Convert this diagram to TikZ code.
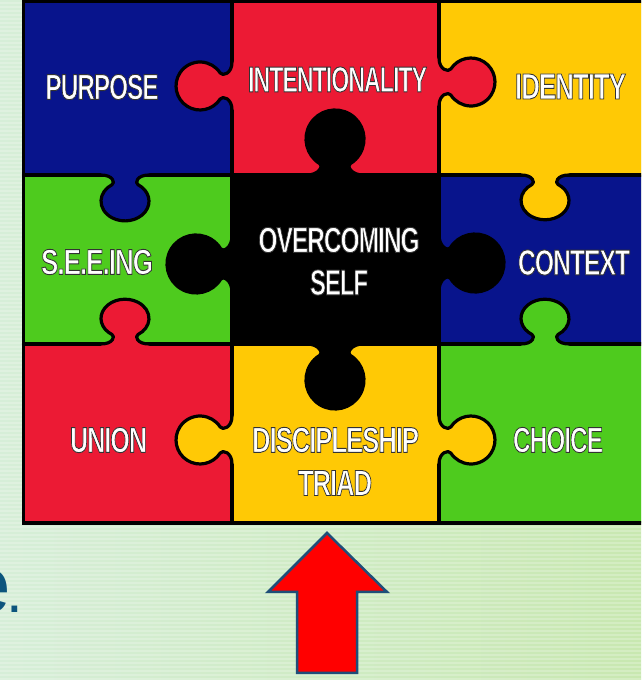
\documentclass[tikz,border=0pt]{standalone}
\usepackage{fontspec}
\setmainfont{Liberation Sans}
\newfontfamily\lblfont{Liberation Sans}[LetterSpace=-4]
\usepackage{graphicx}
\definecolor{pblue}{RGB}{8,20,140}
\definecolor{pred}{RGB}{236,26,52}
\definecolor{pyellow}{RGB}{255,201,5}
\definecolor{pgreen}{RGB}{78,203,30}
\definecolor{bgl}{RGB}{214,238,216}
\definecolor{bgr}{RGB}{200,232,176}
\definecolor{arrowred}{RGB}{255,0,0}
\definecolor{arrowedge}{RGB}{31,78,121}
\definecolor{etext}{RGB}{12,85,125}
\newcommand\olabel[2]{\resizebox{#1pt}{25pt}{\fontsize{35}{35}\lblfont\bfseries
 \special{pdf:literal direct 2 Tr 0.9 w 0.2 0.2 0.2 RG}#2\special{pdf:literal direct 0 Tr}}}
\tikzset{
 puzzleline/.style={line width=3.2pt, black, line cap=round, line join=round},
 lbl/.style={inner sep=0pt, anchor=center, text=white},
}
% tab A: head radius 24
\newcommand\tabA[5]{% x, y, rotate, color, yscale
 \begin{scope}[shift={(#1,#2)},rotate=#3,yscale=#5]
  \fill[#4] (-24,-5) -- (-24,0) .. controls (-12,0) and (-9.6,9.6) .. (-13,11.8)
    arc[start angle=237.2,end angle=-57.2,radius=24]
    .. controls (9.6,9.6) and (12,0) .. (24,0) -- (24,-5) -- cycle;
  \draw[puzzleline] (-24,0) .. controls (-12,0) and (-9.6,9.6) .. (-13,11.8)
    arc[start angle=237.2,end angle=-57.2,radius=24]
    .. controls (9.6,9.6) and (12,0) .. (24,0);
 \end{scope}}
% tab B: head radius 29 (black piece)
\newcommand\tabB[4]{% x, y, rotate, color
 \begin{scope}[shift={(#1,#2)},rotate=#3]
  \fill[#4] (-28,-5) -- (-28,0) .. controls (-16,0) and (-11.6,9.1) .. (-15,11.2)
    arc[start angle=238.8,end angle=-58.8,radius=29]
    .. controls (11.6,9.1) and (16,0) .. (28,0) -- (28,-5) -- cycle;
  \draw[puzzleline] (-28,0) .. controls (-16,0) and (-11.6,9.1) .. (-15,11.2)
    arc[start angle=238.8,end angle=-58.8,radius=29]
    .. controls (11.6,9.1) and (16,0) .. (28,0);
 \end{scope}}
\begin{document}
\begin{tikzpicture}[x=1pt,y=1pt]
\useasboundingbox (0,0) rectangle (641,680);
\clip (0,0) rectangle (641,680);
% background
\fill[left color=bgl, right color=bgr] (0,0) rectangle (641,680);
\foreach \i in {0,4,...,680} \fill[white, opacity=0.22] (0,\i) rectangle (641,\i+2);
\node[anchor=base west, text=etext, font=\fontsize{80}{80}\selectfont, inner sep=0pt] (etxt) at (-33.5,67) {e\kern-4.5pt{\fontsize{60}{60}\selectfont.}};
% pieces
\fill[pblue]   (23.5,505) rectangle (232,678.5);
\fill[pred]    (232,505) rectangle (439,678.5);
\fill[pyellow] (439,505) rectangle (645,678.5);
\fill[pgreen]  (23.5,336) rectangle (232,505);
\fill[black]   (232,336) rectangle (439,505);
\fill[pblue]   (439,336) rectangle (645,505);
\fill[pred]    (23.5,157) rectangle (232,336);
\fill[pyellow] (232,157) rectangle (439,336);
\fill[pgreen]  (439,157) rectangle (645,336);
% grid lines
\draw[puzzleline] (232,157) -- (232,678.5);
\draw[puzzleline] (439,157) -- (439,678.5);
\draw[puzzleline] (23.5,505) -- (645,505);
\draw[puzzleline] (23.5,336) -- (645,336);
% tabs
\tabA{232}{594}{90}{pred}{1}
\tabA{439}{598}{-90}{pred}{1}
\tabB{335}{505}{0}{black}
\tabA{125}{505}{180}{pblue}{0.82}
\tabA{545}{505}{180}{pyellow}{0.8}
\tabB{232}{416}{90}{black}
\tabB{439}{417}{-90}{black}
\tabA{125}{336}{0}{pred}{0.8}
\tabA{545}{336}{0}{pgreen}{0.8}
\tabB{335}{336}{180}{black}
\tabA{232}{240}{90}{pyellow}{1}
\tabA{439}{240}{-90}{pyellow}{1}
% frame
\draw[line width=3.2pt, black] (23.5,157) rectangle (645,678.5);
% labels
\node[lbl] (purpose) at (102,593) {\olabel{113}{PURPOSE}};
\node[lbl] (intent) at (337.5,600.5) {\olabel{179}{INTENTIONALITY}};
\node[lbl] (identity) at (570.5,593.5) {\olabel{111}{IDENTITY}};
\node[lbl] (seeing) at (97,418) {\olabel{112}{S.E.E.ING}};
\node[lbl] (overcoming) at (339,440) {\olabel{161}{OVERCOMING}};
\node[lbl] (self) at (339,397.5) {\olabel{58}{SELF}};
\node[lbl] (context) at (574,417.5) {\olabel{112}{CONTEXT}};
\node[lbl] (union) at (108.5,240) {\olabel{77}{UNION}};
\node[lbl] (disc) at (335.5,240) {\olabel{167}{DISCIPLESHIP}};
\node[lbl] (triad) at (335,197) {\olabel{74}{TRIAD}};
\node[lbl] (choice) at (558,240) {\olabel{90}{CHOICE}};
% arrow
\draw[fill=arrowred, draw=arrowedge, line width=2.5pt, line join=miter]
  (327,147) -- (387,88) -- (357,88) -- (357,7) -- (297,7) -- (297,88) -- (268,88) -- cycle;
\end{tikzpicture}
\end{document}
